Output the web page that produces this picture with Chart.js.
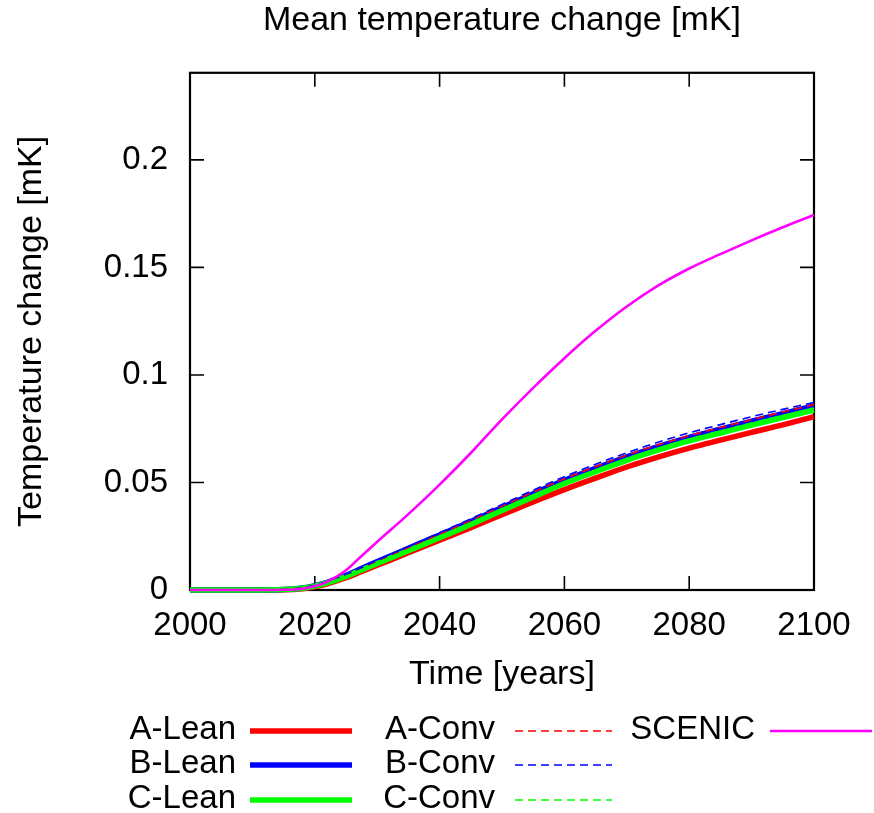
<!DOCTYPE html>
<html>
<head>
<meta charset="utf-8">
<title>Mean temperature change</title>
<script src="https://cdn.jsdelivr.net/npm/chart.js@4.4.1/dist/chart.umd.min.js"></script>
<style>
  html, body { margin: 0; padding: 0; background: #fff; }
  #wrap { width: 874px; height: 813px; }
</style>
</head>
<body>
<div id="wrap"><canvas id="chart" width="874" height="813"></canvas></div>
<script>
// ── Data ─────────────────────────────────────────────────────────────────────
const TITLE = 'Mean temperature change [mK]';
const X_TITLE = 'Time [years]';
const Y_TITLE = 'Temperature change [mK]';

const YEARS = [2000, 2005, 2010, 2015, 2018, 2020, 2022, 2025, 2027, 2030, 2035, 2040, 2045,
               2050, 2055, 2060, 2065, 2070, 2075, 2080, 2085, 2090, 2095, 2100];

const A_LEAN = [0, 0, 0, 0.0001, 0.0006, 0.0015, 0.0029, 0.0057, 0.0080, 0.0115, 0.0173, 0.0232, 0.0290,
                0.0350, 0.0410, 0.0467, 0.0520, 0.0572, 0.0618, 0.0660, 0.0697, 0.0733, 0.0768, 0.0806];
const B_LEAN = [0, 0, 0, 0.0002, 0.0009, 0.0020, 0.0036, 0.0068, 0.0094, 0.0132, 0.0194, 0.0256, 0.0319,
                0.0384, 0.0448, 0.0510, 0.0566, 0.0619, 0.0667, 0.0710, 0.0748, 0.0785, 0.0820, 0.0856];
const C_LEAN = [0, 0, 0, 0.0002, 0.0008, 0.0018, 0.0033, 0.0063, 0.0087, 0.0123, 0.0183, 0.0243, 0.0305,
                0.0370, 0.0433, 0.0495, 0.0550, 0.0603, 0.0650, 0.0693, 0.0730, 0.0767, 0.0802, 0.0837];
const A_CONV = [0, 0, 0, 0.0002, 0.0009, 0.0021, 0.0037, 0.0069, 0.0095, 0.0134, 0.0197, 0.0260, 0.0324,
                0.0390, 0.0455, 0.0517, 0.0574, 0.0627, 0.0675, 0.0718, 0.0756, 0.0792, 0.0828, 0.0862];
const B_CONV = [0, 0, 0, 0.0002, 0.0010, 0.0022, 0.0039, 0.0072, 0.0098, 0.0138, 0.0202, 0.0266, 0.0331,
                0.0398, 0.0464, 0.0527, 0.0585, 0.0638, 0.0687, 0.0731, 0.0769, 0.0806, 0.0840, 0.0872];
const C_CONV = [0, 0, 0, 0.0002, 0.0008, 0.0019, 0.0034, 0.0065, 0.0089, 0.0126, 0.0187, 0.0248, 0.0311,
                0.0376, 0.0440, 0.0502, 0.0558, 0.0611, 0.0658, 0.0701, 0.0739, 0.0776, 0.0811, 0.0845];
const SCENIC = [0, 0, 0, 0.0001, 0.0006, 0.0017, 0.0038, 0.0092, 0.0145, 0.0224, 0.0353, 0.0490, 0.0637,
                0.0793, 0.0940, 0.1078, 0.1205, 0.1318, 0.1415, 0.1495, 0.1562, 0.1626, 0.1687, 0.1744];

const X_MIN = 2000, X_MAX = 2100, X_STEP = 20;
const Y_MIN = 0, Y_MAX = 0.2405, Y_STEP = 0.05;

// ── Style ─────────────────────────────────────────────────────────────────────
const FAMILY = '"Liberation Sans", Arial, Helvetica, sans-serif';
const FONT_BIG = { family: FAMILY, size: 34, weight: 'normal' };
const FONT = { family: FAMILY, size: 33, weight: 'normal' };
const FONT_CSS = '33px ' + FAMILY;
const LEAN_W = 5.5, CONV_W = 1.6, SCENIC_W = 2.6, DASH = [8, 5];

const pts = (vals) => vals.map((v, i) => ({ x: YEARS[i], y: v }));

const SERIES = [
  { label: 'A-Lean', data: A_LEAN, color: '#ff0000', width: LEAN_W, dash: [] },
  { label: 'B-Lean', data: B_LEAN, color: '#0000ff', width: LEAN_W, dash: [] },
  { label: 'C-Lean', data: C_LEAN, color: '#00ff00', width: LEAN_W, dash: [] },
  { label: 'A-Conv', data: A_CONV, color: '#ff0000', width: CONV_W, dash: DASH },
  { label: 'B-Conv', data: B_CONV, color: '#0000ff', width: CONV_W, dash: DASH },
  { label: 'C-Conv', data: C_CONV, color: '#00ff00', width: CONV_W, dash: DASH },
  { label: 'SCENIC', data: SCENIC, color: '#ff00ff', width: SCENIC_W, dash: [] },
];

// ── Plot frame with inward ticks on all four sides ────────────────────────────
const frame = {
  id: 'frame',
  beforeDatasetsDraw(chart) {
    const { ctx, chartArea: a, scales: { x, y } } = chart;
    const TL = 14;
    ctx.save();
    ctx.strokeStyle = '#000';
    ctx.lineWidth = 1.6;
    ctx.beginPath();
    x.ticks.forEach(t => {
      const px = x.getPixelForValue(t.value);
      ctx.moveTo(px, a.bottom); ctx.lineTo(px, a.bottom - TL);
      ctx.moveTo(px, a.top); ctx.lineTo(px, a.top + TL);
    });
    y.ticks.forEach(t => {
      const py = y.getPixelForValue(t.value);
      ctx.moveTo(a.left, py); ctx.lineTo(a.left + TL, py);
      ctx.moveTo(a.right, py); ctx.lineTo(a.right - TL, py);
    });
    ctx.stroke();
    ctx.lineWidth = 2.2;
    ctx.strokeRect(a.left, a.top, a.right - a.left, a.bottom - a.top);
    ctx.restore();
  },
};

// ── Gnuplot-style key: label then line sample, three rows per column ─────────
const LEGEND_COLS = [
  { textRight: 236, from: 250, to: 352 },
  { textRight: 495, from: 515, to: 612 },
  { textRight: 755, from: 770, to: 872 },
];
const LEGEND_ROWS = [730, 764, 799];

const keyBox = {
  id: 'keyBox',
  afterDraw(chart) {
    const { ctx } = chart;
    ctx.save();
    ctx.font = FONT_CSS;
    ctx.textAlign = 'right';
    ctx.textBaseline = 'middle';
    chart.data.datasets.forEach((ds, i) => {
      const col = LEGEND_COLS[Math.floor(i / 3)];
      const y = LEGEND_ROWS[i % 3];
      ctx.fillStyle = '#000';
      ctx.fillText(ds.label, col.textRight, y);
      ctx.strokeStyle = ds.borderColor;
      ctx.lineWidth = ds.borderWidth;
      ctx.setLineDash(ds.borderDash || []);
      ctx.beginPath();
      ctx.moveTo(col.from, y + 1);
      ctx.lineTo(col.to, y + 1);
      ctx.stroke();
    });
    ctx.restore();
  },
};

new Chart(document.getElementById('chart'), {
  type: 'line',
  data: {
    datasets: SERIES.map((s, i) => ({
      label: s.label,
      data: pts(s.data),
      borderColor: s.color,
      backgroundColor: s.color,
      borderWidth: s.width,
      borderDash: s.dash,
      pointRadius: 0,
      cubicInterpolationMode: 'monotone',
      fill: false,
      clip: false,
      order: -i, // later series painted on top, as in gnuplot
    })),
  },
  options: {
    responsive: false,
    animation: false,
    events: [],
    layout: { padding: { left: 0, right: 60, top: 0, bottom: 113 } },
    plugins: {
      legend: { display: false },
      tooltip: { enabled: false },
      title: {
        display: true, text: TITLE, color: '#000', font: FONT_BIG, fullSize: false,
        padding: { top: 0, bottom: 32 },
      },
    },
    scales: {
      x: {
        type: 'linear', min: X_MIN, max: X_MAX,
        ticks: { stepSize: X_STEP, padding: 16, color: '#000', font: FONT, maxRotation: 0,
                 callback: v => String(v) },
        grid: { display: false, drawTicks: false },
        border: { display: false },
        title: { display: true, text: X_TITLE, color: '#000', font: FONT_BIG, padding: { top: 0, bottom: 5 } },
        afterFit: s => { s.height = 110; },
      },
      y: {
        type: 'linear', min: Y_MIN, max: Y_MAX,
        ticks: { stepSize: Y_STEP, includeBounds: false, padding: 22, color: '#000', font: FONT,
                 callback: v => String(+v.toFixed(2)) },
        grid: { display: false, drawTicks: false },
        border: { display: false },
        title: { display: true, text: Y_TITLE, color: '#000', font: FONT_BIG, padding: { top: 11, bottom: 0 } },
        afterFit: s => { s.width = 190; },
      },
    },
  },
  plugins: [frame, keyBox],
});
</script>
</body>
</html>
